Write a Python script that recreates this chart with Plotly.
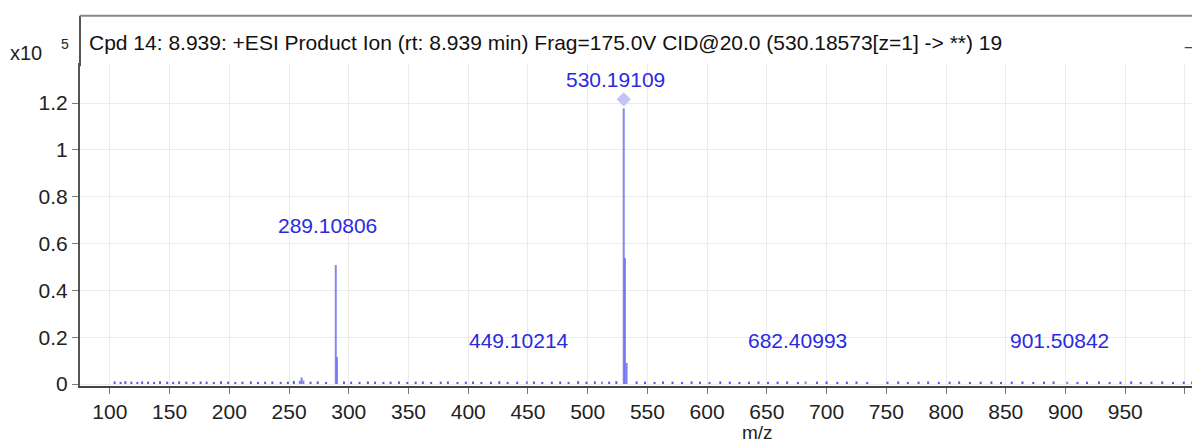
import plotly.graph_objects as go

# ── Spectrum data (m/z, intensity in units of 1e5 counts) ─────────────
peak_mz = [259.0, 260.5, 262.0, 289.108, 290.11, 449.102, 512.0,
           530.191, 531.19, 532.6, 682.41, 901.508]
peak_int = [0.014, 0.028, 0.015, 0.508, 0.115, 0.012, 0.01,
            1.178, 0.538, 0.09, 0.011, 0.01]

noise_mz = [104, 109, 113, 118, 123, 127, 132, 137, 142, 148, 153, 158,
            164, 170, 176, 181, 187, 193, 199, 205, 211, 218, 224, 230,
            236, 243, 249, 254, 268, 274, 281, 296, 302, 309, 316, 322,
            329, 335, 342, 349, 356, 362, 369, 377, 383, 391, 398, 404,
            411, 419, 426, 433, 441, 455, 462, 470, 477, 484, 492, 499,
            506, 518, 524, 541, 548, 556, 563, 571, 579, 587, 594, 602,
            611, 619, 627, 635, 643, 651, 659, 667, 676, 692, 700, 709,
            717, 725, 734, 751, 760, 768, 777, 785, 794, 803, 811, 820,
            829, 838, 846, 855, 864, 873, 882, 890, 910, 918, 928, 937,
            946, 955, 963, 972, 981, 990, 999, 1006]
noise_int = [0.011, 0.009, 0.012, 0.010, 0.009, 0.011, 0.010, 0.009,
             0.012, 0.010, 0.009, 0.011, 0.010, 0.009, 0.011, 0.010,
             0.009, 0.012, 0.010, 0.009, 0.010, 0.011, 0.009, 0.010,
             0.011, 0.009, 0.010, 0.013, 0.010, 0.011, 0.009, 0.011,
             0.010, 0.009, 0.011, 0.010, 0.009, 0.010, 0.011, 0.009,
             0.010, 0.011, 0.009, 0.010, 0.011, 0.009, 0.010, 0.011,
             0.009, 0.010, 0.012, 0.009, 0.010, 0.011, 0.009, 0.010,
             0.011, 0.009, 0.012, 0.010, 0.011, 0.010, 0.012, 0.011,
             0.010, 0.009, 0.011, 0.010, 0.009, 0.011, 0.010, 0.009,
             0.011, 0.010, 0.009, 0.010, 0.011, 0.009, 0.010, 0.011,
             0.009, 0.010, 0.011, 0.009, 0.010, 0.011, 0.009, 0.010,
             0.011, 0.009, 0.010, 0.011, 0.009, 0.010, 0.011, 0.009,
             0.010, 0.011, 0.009, 0.010, 0.011, 0.009, 0.010, 0.011,
             0.009, 0.010, 0.011, 0.009, 0.010, 0.011, 0.009, 0.010,
             0.011, 0.009, 0.010, 0.011]

# labelled peaks: text and where the label sits
label_mz = [289.10806, 530.19109, 449.10214, 682.40993, 901.50842]
label_text = ["289.10806", "530.19109", "449.10214", "682.40993", "901.50842"]
label_y = [0.675, 1.30, 0.184, 0.184, 0.184]

# precursor marker
precursor_mz = [530.19109]
precursor_y = [1.216]

x_ticks = list(range(100, 1001, 50))
x_ticktext = [str(v) for v in x_ticks[:-1]] + [""]
y_ticks = [0, 0.2, 0.4, 0.6, 0.8, 1.0, 1.2]
y_ticktext = ["0", "0.2", "0.4", "0.6", "0.8", "1", "1.2"]

title_text = ("Cpd 14: 8.939: +ESI Product Ion (rt: 8.939 min) Frag=175.0V "
              "CID@20.0 (530.18573[z=1] -> **) 19")

FONT = "Liberation Sans, Arial, sans-serif"
LINE_COLOR = "rgba(110,110,240,0.85)"
LABEL_COLOR = "#2a2ae0"


def sticks(mz, inten):
    xs, ys = [], []
    for m, i in zip(mz, inten):
        xs.extend([m, m, None])
        ys.extend([0, i, None])
    return xs, ys


fig = go.Figure()

nx, ny = sticks(noise_mz, noise_int)
fig.add_trace(go.Scatter(x=nx, y=ny, mode="lines",
                         line=dict(color="rgba(60,60,225,0.85)", width=2),
                         hoverinfo="skip", showlegend=False))

px_, py_ = sticks(peak_mz, peak_int)
fig.add_trace(go.Scatter(x=px_, y=py_, mode="lines",
                         line=dict(color=LINE_COLOR, width=2),
                         hoverinfo="skip", showlegend=False))

fig.add_trace(go.Scatter(x=precursor_mz, y=precursor_y, mode="markers",
                         marker=dict(symbol="diamond", size=11,
                                     color="#c4c4f6"),
                         hoverinfo="skip", showlegend=False))

for m, t, y in zip(label_mz, label_text, label_y):
    fig.add_annotation(x=m, y=y, text=t, showarrow=False,
                       xanchor="center", yanchor="middle", xshift=-8,
                       font=dict(family=FONT, size=21, color=LABEL_COLOR))

# header text and axis multiplier
fig.add_annotation(xref="paper", yref="paper", x=0.006, y=1.065,
                   text=title_text, showarrow=False, xanchor="left",
                   yanchor="middle",
                   font=dict(family=FONT, size=21, color="#111"))
fig.add_annotation(xref="paper", yref="paper", x=-0.032, y=1.03,
                   text="x10", showarrow=False, xanchor="right",
                   yanchor="middle",
                   font=dict(family=FONT, size=20, color="#222"))
fig.add_annotation(xref="paper", yref="paper", x=-0.0135, y=1.058,
                   text="5", showarrow=False, xanchor="center",
                   yanchor="middle",
                   font=dict(family=FONT, size=14, color="#222"))
fig.add_annotation(xref="paper", yref="paper", x=0.991, y=1.07,
                   text="_", showarrow=False, xanchor="center",
                   yanchor="middle",
                   font=dict(family=FONT, size=16, color="#444"))
fig.add_annotation(xref="paper", yref="paper", x=0.6045, y=-0.143,
                   text="m/z", showarrow=False, xanchor="center",
                   yanchor="middle",
                   font=dict(family=FONT, size=19, color="#222"))

# frame: header border above the plotting area
fig.add_shape(type="line", xref="paper", yref="paper",
              x0=0, x1=0, y0=0.99, y1=1.146,
              line=dict(color="#555", width=2))
fig.add_shape(type="line", xref="paper", yref="paper",
              x0=0, x1=1.0, y0=1.146, y1=1.146,
              line=dict(color="#888", width=2))

# the page body adds an 8px margin, so the figure is 8px smaller each way
fig.update_layout(
    width=1192, height=436,
    margin=dict(l=72, r=0, t=55, b=58),
    plot_bgcolor="white", paper_bgcolor="white",
    font=dict(family=FONT, size=21, color="#222"),
    xaxis=dict(
        range=[75, 1012.6],
        tickvals=x_ticks, ticktext=x_ticktext,
        showgrid=True, gridcolor="#ebebeb", gridwidth=1,
        zeroline=False,
        showline=True, linecolor="#444", linewidth=2,
        ticks="outside", ticklen=6, tickcolor="#777", tickwidth=1,
    ),
    yaxis=dict(
        range=[-0.0085, 1.371],
        tickvals=y_ticks, ticktext=y_ticktext,
        showgrid=True, gridcolor="#ebebeb", gridwidth=1,
        zeroline=False,
        showline=True, linecolor="#555", linewidth=2,
        ticks="outside", ticklen=6, tickcolor="#777", tickwidth=1,
    ),
)

fig.write_html("out.html")
